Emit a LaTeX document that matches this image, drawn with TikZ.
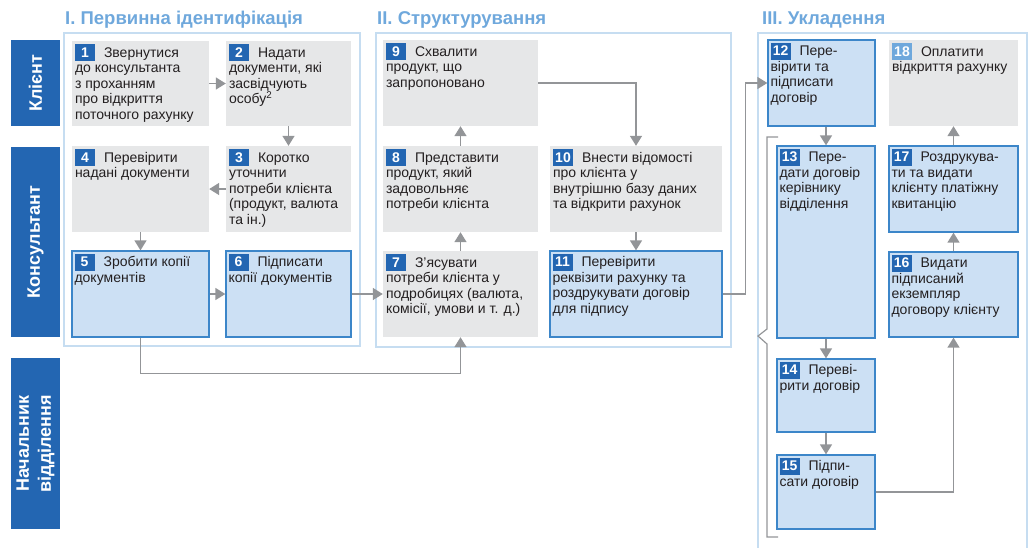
\documentclass[tikz,border=0pt]{standalone}
\usepackage{fontspec}
\setmainfont{Liberation Sans}
\usetikzlibrary{arrows.meta,fit}
\definecolor{dblue}{RGB}{35,102,178}
\definecolor{lblue}{RGB}{111,168,220}
\definecolor{frameblue}{RGB}{198,221,241}
\definecolor{gfill}{RGB}{230,231,232}
\definecolor{bfill}{RGB}{204,224,244}
\definecolor{bborder}{RGB}{60,134,201}
\definecolor{agrey}{RGB}{147,149,152}
\definecolor{tcol}{RGB}{35,31,32}
\newcommand\nb[2][dblue]{{\setlength\fboxsep{0pt}\colorbox{#1}{\makebox[20pt]{\rule[-4pt]{0pt}{17pt}\color{white}\bfseries #2}}}\hspace{9pt}}
\tikzset{
  gbox/.style={fill=gfill, inner sep=0pt},
  bbox/.style={fill=bfill, draw=bborder, line width=1.3pt, inner sep=0pt},
  lane/.style={fill=dblue, inner sep=0pt},
  lanetxt/.style={text=white, font=\fontsize{18}{22}\selectfont\bfseries, rotate=90, align=center},
  phase/.style={draw=frameblue, line width=2pt, inner sep=0pt},
  ttl/.style={text=lblue, font=\fontsize{18.5}{21}\selectfont\bfseries, inner sep=0pt, anchor=base west},
  txt/.style={text=tcol, font=\fontsize{14}{15.6}\selectfont, inner sep=0pt, align=left, anchor=north west},
  arr/.style={draw=agrey, line width=1.5pt, -{Triangle[length=10pt,width=12pt]}},
  brk/.style={draw=agrey, line width=1.2pt}
}
\begin{document}
\begin{tikzpicture}[x=1pt,y=-1pt]
\useasboundingbox (0,0) rectangle (1036,547);
\clip (0,0) rectangle (1036,547);
% phase frames
\node[phase, fit={(64,33) (360,346)}] (p1) {};
\node[phase, fit={(376,33) (731,347)}] (p2) {};
\node[phase, fit={(758,33) (1027,560)}] (p3) {};
% titles
\node[ttl] (h1) at (65,24) {I. Первинна ідентифікація};
\node[ttl] (h2) at (377,24) {II. Структурування};
\node[ttl] (h3) at (762,24) {III. Укладення};
% lanes
\node[lane, fit={(11,40) (60,126)}] (l1) {};
\node[lane, fit={(11,147) (60,337)}] (l2) {};
\node[lane, fit={(11,358) (60,529)}] (l3) {};
\node[lanetxt] (lt1) at (l1.center) {Клієнт};
\node[lanetxt] (lt2) at (l2.center) {Консультант};
\node[lanetxt] (lt3) at (l3.center) {Начальник\\відділення};
% boxes
\node[gbox, fit={(72,41) (209,126)}] (b1) {};
\node[gbox, fit={(226,41) (351,126)}] (b2) {};
\node[gbox, fit={(226,146) (351,232)}] (b3) {};
\node[gbox, fit={(72,146) (209,232)}] (b4) {};
\node[bbox, fit={(72,251) (209,337)}] (b5) {};
\node[bbox, fit={(226,251) (351,337)}] (b6) {};
\node[gbox, fit={(383,40) (538,126)}] (b9) {};
\node[gbox, fit={(383,146) (538,232)}] (b8) {};
\node[gbox, fit={(550,146) (722,232)}] (b10) {};
\node[gbox, fit={(383,251) (538,337)}] (b7) {};
\node[bbox, fit={(550,251) (722,337)}] (b11) {};
\node[bbox, fit={(768,40) (875,126)}] (b12) {};
\node[gbox, fit={(889,40) (1018,126)}] (b18) {};
\node[bbox, fit={(777,146) (875,338)}] (b13) {};
\node[bbox, fit={(889,146) (1018,232)}] (b17) {};
\node[bbox, fit={(889,252) (1018,337)}] (b16) {};
\node[bbox, fit={(777,359) (875,432)}] (b14) {};
\node[bbox, fit={(777,455) (875,529)}] (b15) {};
% texts
\node[txt] (t1) at ([shift={(3pt,-3pt)}]b1.north west) {\nb{1}Звернутися\\до консультанта\\з проханням\\про відкриття\\поточного рахунку};
\node[txt] (t2) at ([shift={(3pt,-3pt)}]b2.north west) {\nb{2}Надати\\документи, які\\засвідчують\\особу\textsuperscript{2}};
\node[txt] (t3) at ([shift={(3pt,-3pt)}]b3.north west) {\nb{3}Коротко\\уточнити\\потреби клієнта\\(продукт, валюта\\та ін.)};
\node[txt] (t4) at ([shift={(3pt,-3pt)}]b4.north west) {\nb{4}Перевірити\\надані документи};
\node[txt] (t5) at ([shift={(3pt,-3pt)}]b5.north west) {\nb{5}Зробити копії\\документів};
\node[txt] (t6) at ([shift={(3pt,-3pt)}]b6.north west) {\nb{6}Підписати\\копії документів};
\node[txt] (t7) at ([shift={(3pt,-3pt)}]b7.north west) {\nb{7}З'ясувати\\потреби клієнта у\\подробицях (валюта,\\комісії, умови и т. д.)};
\node[txt] (t8) at ([shift={(3pt,-3pt)}]b8.north west) {\nb{8}Представити\\продукт, який\\задовольняє\\потреби клієнта};
\node[txt] (t9) at ([shift={(3pt,-3pt)}]b9.north west) {\nb{9}Схвалити\\продукт, що\\запропоновано};
\node[txt] (t10) at ([shift={(3pt,-3pt)}]b10.north west) {\nb{10}Внести відомості\\про клієнта у\\внутрішню базу даних\\та відкрити рахунок};
\node[txt] (t11) at ([shift={(3pt,-3pt)}]b11.north west) {\nb{11}Перевірити\\реквізити рахунку та\\роздрукувати договір\\для підпису};
\node[txt] (t12) at ([shift={(3pt,-3pt)}]b12.north west) {\nb{12}Пере-\\вірити та\\підписати\\договір};
\node[txt] (t18) at ([shift={(3pt,-3pt)}]b18.north west) {\nb[lblue]{18}Оплатити\\відкриття рахунку};
\node[txt] (t13) at ([shift={(3pt,-3pt)}]b13.north west) {\nb{13}Пере-\\дати договір\\керівнику\\відділення};
\node[txt] (t17) at ([shift={(3pt,-3pt)}]b17.north west) {\nb{17}Роздрукува-\\ти та видати\\клієнту платіжну\\квитанцію};
\node[txt] (t16) at ([shift={(3pt,-3pt)}]b16.north west) {\nb{16}Видати\\підписаний\\екземпляр\\договору клієнту};
\node[txt] (t14) at ([shift={(3pt,-3pt)}]b14.north west) {\nb{14}Переві-\\рити договір};
\node[txt] (t15) at ([shift={(3pt,-3pt)}]b15.north west) {\nb{15}Підпи-\\сати договір};
% bracket
\draw[brk] (778,137) -- (767,137) -- (767,329) -- (758,336) -- (767,344) -- (767,537) -- (778,537);
% connectors
\draw[arr] (b1.east) -- (b2.west);
\draw[arr] (b2.south) -- (b3.north);
\draw[arr] (b3.west) -- (b4.east);
\draw[arr] (b4.south) -- (b5.north);
\draw[arr] (b5.east) -- (b6.west);
\draw[arr] (b6.east) -- (b7.west);
\draw[arr] (b5.south) -- ++(0,36) -| (b7.south);
\draw[arr] (b7.north) -- (b8.south);
\draw[arr] (b8.north) -- (b9.south);
\draw[arr] (b9.east) -| (b10.north);
\draw[arr] (b10.south) -- (b11.north);
\draw[arr] (b11.east) -- ++(23,0) |- (b12.west);
\draw[arr] (b13.north |- b12.south) -- (b13.north);
\draw[arr] (b13.south) -- (b14.north);
\draw[arr] (b14.south) -- (b15.north);
\draw[arr] (b15.east) -| (b16.south);
\draw[arr] (b16.north) -- (b17.south);
\draw[arr] (b17.north) -- (b18.south);
\end{tikzpicture}
\end{document}
